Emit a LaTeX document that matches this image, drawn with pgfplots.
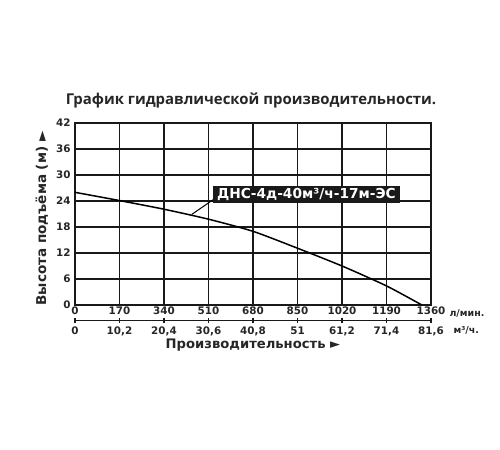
\documentclass[border=0pt]{standalone}
\usepackage{pgfplots}
\pgfplotsset{compat=1.18}
\usepackage{fontspec}
\setmainfont{DejaVu Sans}
\newfontfamily\titlefont{Open Sans}
\begin{document}
\begin{tikzpicture}[x=1bp,y=1bp]
\path[use as bounding box] (0,0) rectangle (500,450);
\begin{axis}[
  at={(75bp,145bp)}, anchor=south west,
  width=356bp, height=182bp, scale only axis,
  xmin=0, xmax=1360, ymin=0, ymax=42,
  xtick={0,170,...,1360}, ytick={0,6,...,42},
  grid=major, grid style={black!90, line width=1.1bp},
  axis line style={black!90, line width=1.1bp},
  major tick length=0pt,
  /pgf/number format/assume math mode=true,
  /pgf/number format/1000 sep={},
  ticklabel style={font=\fontsize{10.4}{12}\bfseries, text=black!85},
  xticklabel style={yshift=2bp},
  yticklabel style={xshift=-1bp},
  clip=false,
]
\addplot[black, line width=1.5bp, smooth, tension=0.4] coordinates {
 (0,26.0) (170,24.1) (340,22.1) (510,19.8) (680,17.0) (850,13.1) (1020,9.0) (1190,4.4) (1325,0)
};
\draw[black, line width=1bp] (axis cs:446,20.9) -- (axis cs:535,24.6);
\node[fill=black!90, text=white, inner sep=0bp, minimum height=17bp, minimum width=187bp,
  font=\fontsize{13.8}{15}\bfseries] at (axis cs:884,25.6) {ДНС-4д-40м³/ч-17м-ЭС};
\end{axis}
\begin{axis}[
  at={(75bp,129.3bp)}, anchor=south west,
  width=356bp, height=10bp, scale only axis,
  xmin=0, xmax=81.6, ymin=0, ymax=1,
  axis x line*=bottom, hide y axis,
  axis line style={black!90, line width=1.1bp, -},
  xtick={0,10.2,20.4,30.6,40.8,51,61.2,71.4,81.6},
  xticklabels={0,{10,2},{20,4},{30,6},{40,8},51,{61,2},{71,4},{81,6}},
  major tick length=5bp, tick align=center,
  tick style={black!90, line width=1.1bp},
  ticklabel style={font=\fontsize{10.4}{12}\bfseries, text=black!85},
  xticklabel style={yshift=0bp},
]
\end{axis}
\node[font=\fontsize{9.5}{10}\bfseries, anchor=west, text=black!85] at (446,137) {л/мин.};
\node[font=\fontsize{9.5}{10}\bfseries, anchor=west, text=black!85] at (450,120) {м³/ч.};
\node[font=\fontsize{13.2}{15}\bfseries, text=black!85] at (253,105) {Производительность ►};
\node[font=\fontsize{13.6}{15}\bfseries, text=black!85, rotate=90] at (41.7,231.5) {Высота подъёма (м) ►};
\node[font=\titlefont\fontsize{15}{18}\bfseries, text=black!85] at (251,350) {График гидравлической производительности.};
\end{tikzpicture}
\end{document}
